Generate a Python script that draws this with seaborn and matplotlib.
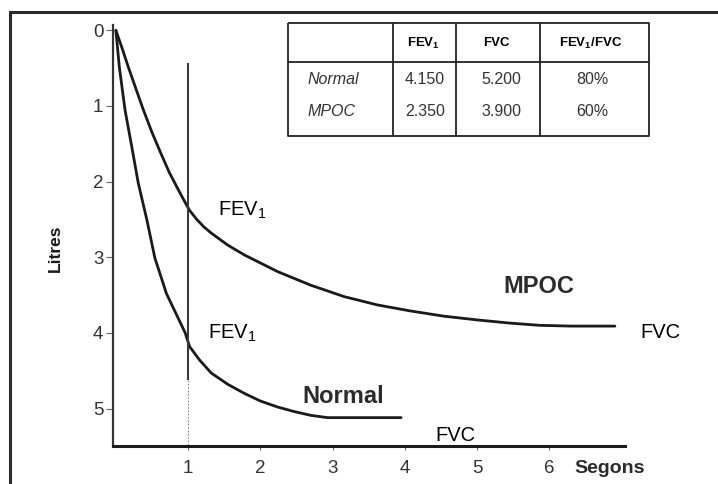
import pandas as pd
import seaborn as sns
import matplotlib.pyplot as plt
from matplotlib.lines import Line2D

# =========================
# data (seconds, litres)
# =========================
normal_t = [0, 0.047, 0.126, 0.22, 0.31, 0.43, 0.54, 0.70, 0.89, 0.96, 1.02, 1.16, 1.32,
            1.55, 1.78, 2.00, 2.24, 2.47, 2.70, 2.93, 3.95]
normal_l = [0, 0.48, 1.05, 1.54, 2.02, 2.51, 3.01, 3.48, 3.86, 4.00, 4.18, 4.36, 4.53,
            4.68, 4.80, 4.90, 4.98, 5.04, 5.09, 5.12, 5.12]

mpoc_t = [0, 0.08, 0.17, 0.28, 0.38, 0.50, 0.62, 0.74, 0.86, 0.95, 1.02, 1.12, 1.22, 1.32,
          1.55, 1.78, 2.24, 2.70, 3.16, 3.62, 4.08, 4.55, 5.02, 5.45, 5.87, 6.30, 6.91]
mpoc_l = [0, 0.22, 0.48, 0.78, 1.05, 1.35, 1.62, 1.88, 2.10, 2.26, 2.38, 2.50, 2.60, 2.68,
          2.84, 2.97, 3.19, 3.37, 3.52, 3.63, 3.71, 3.78, 3.83, 3.87, 3.90, 3.91, 3.91]

x_ticks = [1, 2, 3, 4, 5, 6]
y_ticks = [0, 1, 2, 3, 4, 5]

# table
tab_rows = ["Normal", "MPOC"]
tab_fev1 = [4.150, 2.350]
tab_fvc = [5.200, 3.900]
tab_ratio = [80, 60]

df = pd.concat([
    pd.DataFrame({"t": normal_t, "l": normal_l, "curve": "Normal"}),
    pd.DataFrame({"t": mpoc_t, "l": mpoc_l, "curve": "MPOC"}),
])

sns.set_theme(style="white")
plt.rcParams["font.family"] = ["Liberation Sans", "DejaVu Sans"]
plt.rcParams["mathtext.fontset"] = "custom"
plt.rcParams["mathtext.default"] = "regular"

INK = "#1a1a1a"
GREY = "#333333"

fig = plt.figure(figsize=(7.18, 4.84), dpi=100)
ax = fig.add_axes([113 / 718, 1 - 446 / 484, 512 / 718, 421 / 484])

sns.lineplot(data=df, x="t", y="l", hue="curve",
             palette={"Normal": INK, "MPOC": INK},
             linewidth=2.0, legend=False, ax=ax)

# FEV1 line at 1 s
ax.vlines(1, 0.43, 4.62, color="#3a3a3a", lw=1.5)
ax.vlines(1, 4.62, 5.495, color="#888888", lw=0.8, linestyles=(0, (1.5, 1.5)))

ax.set_xlim(-0.04, 7.05)
ax.set_ylim(5.495, -0.07)
ax.set_xticks(x_ticks)
ax.set_yticks(y_ticks)
ax.set_xlabel("")
ax.set_ylabel("Litres", fontsize=12.5, fontweight="bold", color=INK)
ax.yaxis.set_label_coords(-0.098, 0.47)

for side in ["top", "right"]:
    ax.spines[side].set_visible(False)
ax.spines["left"].set_color(GREY)
ax.spines["left"].set_linewidth(1.6)
ax.spines["bottom"].set_color(INK)
ax.spines["bottom"].set_linewidth(2.2)

ax.tick_params(axis="y", left=True, direction="out", length=5, width=0.8,
               color="#666666", labelsize=13.5, labelcolor=GREY, pad=2)
ax.tick_params(axis="x", bottom=True, direction="out", length=3, width=0.8,
               color="#666666", labelsize=13.5, labelcolor=GREY, pad=7)

# annotations
lab = dict(fontsize=14.5, color="black", va="baseline", ha="left", clip_on=False)
ax.text(1.41, 2.45, "FEV$_1$", **lab)
ax.text(1.28, 4.08, "FEV$_1$", **lab)
ax.text(4.42, 5.43, "FVC", **lab)
ax.text(7.26, 4.07, "FVC", **lab)

narrow = ["Liberation Sans Narrow", "Liberation Sans", "DejaVu Sans"]
ax.text(2.58, 4.93, "Normal", family=narrow, fontsize=17, fontweight="bold",
        color="#2b2b2b", va="baseline", ha="left")
ax.text(5.36, 3.47, "MPOC", family=narrow, fontsize=17, fontweight="bold",
        color="#2b2b2b", va="baseline", ha="left")
ax.text(6.35, 5.85, "Segons", family=narrow, fontsize=14, fontweight="bold",
        color="#2b2b2b", va="baseline", ha="left", clip_on=False)

# table (inset axes in pixel units)
tax = fig.add_axes([288 / 718, 1 - 136 / 484, 361 / 718, 113 / 484])
tax.set_xlim(0, 361)
tax.set_ylim(113, 0)
tax.axis("off")
col_edges = [0, 105, 168, 252, 361]
frame = dict(color="#222222", lw=1.3, solid_capstyle="butt", clip_on=False)
tax.plot([0, 361, 361, 0, 0], [0, 0, 113, 113, 0], **frame)
tax.plot([0, 361], [39, 39], **frame)
for cx in col_edges[1:-1]:
    tax.plot([cx, cx], [0, 113], **frame)

head = dict(fontsize=9.5, fontweight="bold", color="black", ha="center", va="center")
tax.text(135, 20, "FEV$_1$", **head)
tax.text(208, 20, "FVC", **head)
tax.text(303, 20, "FEV$_1$/FVC", **head)

row_y = [56, 89]
cell = dict(fontsize=11.5, color=GREY, va="center")
for i, name in enumerate(tab_rows):
    tax.text(20, row_y[i], name, style="italic", ha="left", **cell)
    tax.text(137, row_y[i], f"{tab_fev1[i]:.3f}", ha="center", **cell)
    tax.text(213, row_y[i], f"{tab_fvc[i]:.3f}", ha="center", **cell)
    tax.text(304, row_y[i], f"{tab_ratio[i]}%", ha="center", **cell)

# outer frame of the original figure (top and left edges only)
fx, fy = 10 / 718, 1 - 12 / 484
fig.lines.append(Line2D([fx, 1.02], [fy, fy], transform=fig.transFigure,
                        color="#2a2a2a", lw=2.2))
fig.lines.append(Line2D([fx, fx], [-0.02, fy], transform=fig.transFigure,
                        color="#2a2a2a", lw=2.2))

fig.savefig("out.png", dpi=100)
